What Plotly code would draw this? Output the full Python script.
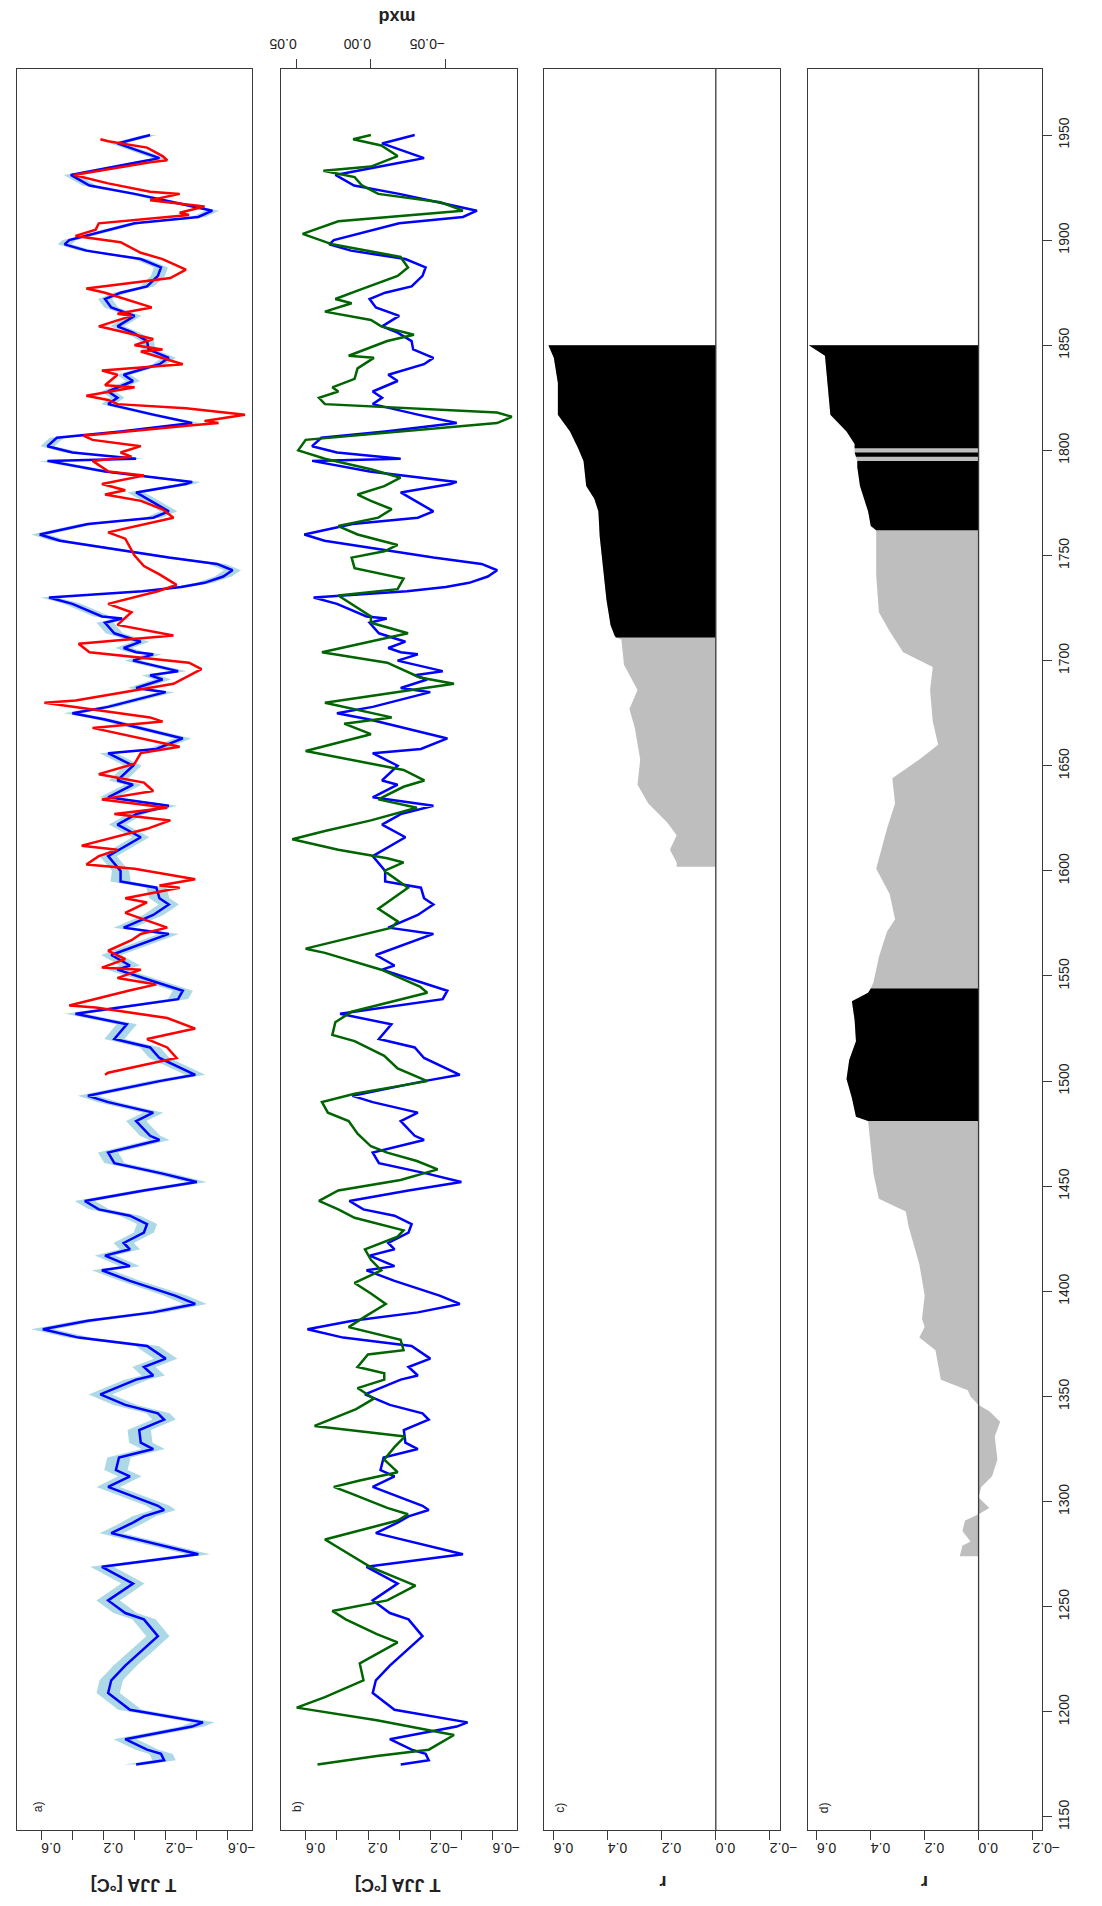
import plotly.graph_objects as go

# ---------------- data ----------------
years_recon = [1175, 1177, 1180, 1182, 1187, 1193, 1195, 1201, 1209, 1215, 1222, 1228, 1236, 1244, 1247,
               1253, 1261, 1269, 1275, 1285, 1290, 1293, 1296, 1298, 1307, 1312, 1315, 1321, 1325, 1328,
               1334, 1339, 1342, 1346, 1351, 1358,
               1360, 1364, 1368, 1374, 1378, 1382, 1386, 1390, 1394, 1398, 1405, 1410, 1412, 1417, 1420,
               1423, 1428, 1432, 1436, 1439, 1443, 1448, 1452, 1456, 1461, 1466, 1472, 1474, 1481,
               1485, 1490, 1493, 1500, 1503, 1511, 1516, 1520, 1527, 1532, 1539, 1543, 1547, 1553, 1555,
               1560, 1570, 1573, 1579, 1584, 1587, 1592, 1595, 1600, 1607,
               1612, 1616, 1622, 1627, 1631, 1635, 1641, 1643, 1650, 1656, 1658, 1663, 1672, 1675, 1678,
               1685, 1687, 1691, 1693, 1695, 1700, 1703, 1704, 1706, 1709, 1713, 1718, 1720, 1721, 1724,
               1727, 1730, 1733, 1735, 1737, 1740, 1743, 1746, 1749,
               1757, 1760, 1765, 1768, 1771, 1777, 1780, 1784, 1785, 1790, 1794, 1795, 1796, 1799, 1802,
               1806, 1809, 1813, 1817, 1822, 1825, 1828, 1833, 1836, 1841, 1844, 1848, 1852, 1856, 1859,
               1864, 1868, 1872, 1875, 1878, 1883, 1887, 1891, 1895, 1898, 1900, 1908, 1911, 1914, 1918,
               1922, 1926, 1931, 1937, 1939, 1946, 1950]
recon = [-0.01, -0.19, -0.17, -0.08, 0.06, -0.37, -0.44, 0.03, 0.17, 0.15, 0.06, -0.03, -0.15, -0.06, 0.06,
         0.17, 0.01, 0.21, -0.41, 0.15, 0.01, -0.06, -0.19, -0.15, 0.17, 0.03, 0.12, 0.10, -0.12, -0.04,
         -0.03, -0.19, -0.15, 0.06, 0.22, -0.01,
         -0.12, -0.06, -0.20, -0.08, 0.36, 0.59, 0.30, -0.12, -0.39, -0.26, 0.03, 0.21, 0.03, 0.19, 0.03,
         0.07, -0.06, -0.08, 0.03, 0.23, 0.32, -0.06, -0.40, -0.18, 0.13, 0.17, -0.16, -0.10, -0.01,
         -0.12, 0.17, 0.30, -0.16, -0.39, -0.16, -0.10, 0.13, 0.05, 0.38, -0.28, -0.31, -0.14, 0.11, 0.03,
         0.15, -0.22, 0.07, -0.12, -0.22, -0.16, -0.14, 0.09, 0.09, 0.17,
         0.05, -0.04, 0.11, -0.01, -0.22, 0.17, 0.01, 0.11, 0.01, 0.17, -0.14, -0.31, 0.19, 0.40, 0.17,
         -0.20, -0.01, -0.18, -0.10, -0.28, 0.01, -0.12, -0.01, 0.07, -0.04, 0.13, 0.19, 0.08, 0.21, 0.30,
         0.40, 0.55, -0.05, -0.30, -0.45, -0.57, -0.63, -0.53, -0.22,
         0.48, 0.61, 0.30, -0.12, -0.22, -0.08, -0.01, -0.33, -0.37, 0.19, 0.48, 0.56, -0.01, 0.40, 0.56,
         0.50, 0.09, -0.37, -0.12, 0.17, 0.11, 0.17, 0.01, 0.07, -0.16, -0.22, -0.09, -0.08, 0.01, 0.11,
         0.00, 0.15, 0.19, 0.09, -0.08, -0.15, -0.17, -0.04, 0.31, 0.45, 0.42, 0.00, -0.41, -0.50, -0.25,
         0.00, 0.29, 0.41, -0.02, -0.16, 0.11, -0.10]

years_instr = [1503, 1504, 1508, 1511, 1516, 1520, 1525, 1530, 1535, 1536, 1543, 1546, 1549, 1553, 1554,
               1558, 1562, 1567, 1570, 1573, 1580, 1585, 1587, 1592, 1593, 1596, 1601, 1603, 1607, 1610,
               1612, 1620, 1624, 1627, 1630, 1634, 1638, 1642, 1646, 1651, 1656, 1659, 1668, 1671, 1673,
               1680, 1681, 1689, 1696, 1699, 1704, 1708, 1712, 1717, 1723, 1727, 1733, 1736, 1741, 1745,
               1750, 1758, 1761, 1768, 1772, 1776, 1779, 1781, 1784, 1788, 1790, 1795, 1797, 1799, 1802,
               1805, 1807, 1809, 1812, 1813, 1814, 1817, 1820, 1822, 1824, 1826, 1830, 1831, 1836, 1838,
               1841, 1847, 1848, 1850, 1853, 1859, 1864, 1865, 1868, 1875, 1877, 1882, 1886, 1891, 1894,
               1899, 1902, 1905, 1908, 1912, 1913, 1916, 1919, 1922, 1923, 1927, 1931, 1937, 1938, 1940,
               1944, 1947, 1948]
instr = [0.19, 0.17, -0.08, -0.27, -0.21, -0.08, -0.39, -0.21, 0.25, 0.42, 0.04, -0.14, 0.11, -0.04, 0.21,
         0.06, 0.17, 0.02, -0.04, -0.21, 0.06, -0.08, 0.06, -0.29, -0.16, -0.39, 0.00, 0.31, 0.23, 0.11,
         0.34, -0.08, -0.23, 0.13, -0.21, 0.21, -0.12, -0.06, 0.23, 0.00, -0.04, -0.29, 0.27, -0.18, -0.10,
         0.58, 0.38, -0.25, -0.43, -0.35, 0.29, 0.36, -0.25, 0.11, 0.02, 0.17, -0.15, -0.27, -0.16, -0.06,
         0.00, 0.06, 0.17, -0.25, -0.18, -0.04, 0.19, 0.06, 0.21, -0.06, 0.17, 0.27, 0.02, 0.09, -0.04,
         0.27, 0.33, 0.06, -0.37, -0.54, -0.45, -0.71, -0.33, 0.11, 0.17, 0.31, 0.00, 0.19, 0.11, 0.21,
         -0.31, -0.04, -0.18, 0.00, -0.12, 0.23, 0.02, 0.11, -0.11, 0.19, 0.31, -0.23, -0.33, -0.18, -0.04,
         0.09, 0.38, 0.25, 0.23, -0.35, -0.29, -0.45, -0.10, -0.29, -0.10, 0.17, 0.39, -0.10, -0.21, -0.18,
         -0.08, 0.17, 0.22]

years_mxd = [1175, 1179, 1182, 1185, 1189, 1196, 1202, 1207, 1215, 1223, 1233, 1237, 1244, 1248, 1253,
             1260, 1269, 1279, 1282, 1288, 1291, 1294, 1297, 1304, 1307, 1310, 1314, 1320, 1326, 1331,
             1336, 1344, 1349, 1354, 1358,
             1361, 1364, 1370, 1372, 1377, 1383, 1388, 1394, 1399, 1404, 1410, 1415, 1420, 1426, 1429,
             1435, 1439, 1443, 1448, 1453, 1458, 1462, 1466, 1469, 1475, 1481,
             1485, 1490, 1494, 1500, 1506, 1512, 1519, 1522, 1528, 1533, 1542, 1545, 1553, 1561, 1563,
             1573, 1576, 1582, 1592, 1600, 1604,
             1606, 1610, 1615, 1619, 1624, 1630, 1634, 1640, 1643, 1648, 1654, 1657, 1665, 1670, 1673,
             1680, 1689, 1692, 1699, 1704, 1713, 1718, 1721, 1726, 1731,
             1734, 1739, 1744, 1749, 1752, 1755, 1760, 1764, 1768, 1772, 1776, 1779, 1783, 1787, 1791,
             1796, 1800, 1805, 1813, 1816, 1818, 1822, 1825, 1828, 1830, 1834, 1839, 1844, 1845, 1852,
             1855,
             1859, 1862, 1866, 1870, 1872, 1876, 1883, 1887, 1892, 1898, 1903, 1909, 1914, 1918, 1922,
             1926, 1930, 1933, 1935, 1940, 1945, 1948, 1950]
mxd = [0.036, -0.004, -0.039, -0.046, -0.056, -0.004, 0.050, 0.031, 0.005, 0.0075, -0.018, -0.004, 0.017,
       0.026, -0.011, -0.030, 0.0005, 0.024, 0.031, -0.002, -0.018, -0.025, -0.011, 0.014, 0.025, 0.0075,
       -0.018, -0.009, -0.016, -0.023, 0.038, 0.010, -0.002, 0.009, -0.009,
       -0.009, 0.009, 0.002, -0.022, -0.020, 0.015, 0.004, -0.010, 0.000, 0.011, -0.007, 0.000, 0.004,
       -0.018, -0.022, 0.011, 0.022, 0.035, 0.022, -0.020, -0.045, -0.031, -0.011, 0.000, 0.009, 0.015,
       0.029, 0.033, 0.011, -0.038, -0.018, -0.009, 0.011, 0.026, 0.024, 0.013, -0.038, -0.033, -0.007,
       0.031, 0.044, -0.014, -0.018, -0.005, -0.025, -0.009, -0.022,
       -0.011, 0.022, 0.053, 0.031, 0.000, -0.031, -0.005, -0.022, -0.036, -0.022, 0.022, 0.044, 0.000,
       0.018, -0.014, 0.031, -0.056, -0.033, -0.011, 0.033, -0.025, 0.000, 0.000, 0.011, 0.022,
       -0.018, -0.022, 0.011, 0.013, -0.009, -0.018, 0.009, 0.022, -0.005, -0.014, 0.000, 0.009, -0.009,
       -0.020, 0.000, 0.031, 0.049, 0.044, -0.085, -0.095, -0.085, 0.031, 0.035, 0.022, 0.026, 0.011,
       0.009, -0.002, 0.015, -0.011, -0.029,
       -0.007, 0.000, 0.031, 0.013, 0.024, 0.009, -0.018, -0.025, -0.020, 0.026, 0.046, 0.022, -0.062,
       -0.047, -0.005, 0.006, 0.011, 0.032, 0.000, -0.018, -0.007, 0.012, 0.000]

# half width of the light-blue uncertainty band, by period start year
uncert_start = [1175, 1400, 1600, 1800]
uncert_halfwidth = [0.075, 0.065, 0.055, 0.045]

years_c = [1602, 1604, 1610, 1617, 1623, 1632, 1641, 1653, 1668, 1677, 1686, 1698, 1710, 1711, 1712,
           1717, 1729, 1741, 1759, 1771, 1777, 1783, 1795, 1801, 1809, 1817, 1832, 1844, 1850]
r_c = [0.145, 0.145, 0.17, 0.145, 0.18, 0.25, 0.29, 0.28, 0.30, 0.32, 0.29, 0.34, 0.35, 0.37, 0.375,
       0.39, 0.405, 0.415, 0.43, 0.435, 0.45, 0.48, 0.49, 0.51, 0.54, 0.585, 0.585, 0.60, 0.62]
c_significant = [(1711, 1850)]

years_d = [1274, 1279, 1281, 1286, 1291, 1294, 1297, 1302, 1307, 1312, 1320, 1331, 1338, 1343, 1346,
           1350, 1353, 1358, 1365, 1372, 1378, 1383, 1387, 1398, 1413, 1422, 1431, 1438, 1444, 1456,
           1468, 1481, 1483, 1492, 1501, 1510, 1519, 1529, 1538, 1542, 1544, 1547, 1559, 1571, 1577,
           1589, 1601, 1620, 1632, 1644, 1653, 1660, 1671, 1686, 1697, 1704, 1714, 1723, 1741, 1762,
           1764, 1771, 1783, 1792, 1795, 1797, 1799, 1801, 1803, 1809, 1817, 1838, 1845, 1850]
r_d = [0.07, 0.06, 0.03, 0.06, 0.05, 0.0, -0.04, 0.0, -0.01, -0.05, -0.07, -0.06, -0.08, -0.04, 0.0,
       0.03, 0.04, 0.14, 0.15, 0.16, 0.22, 0.20, 0.21, 0.20, 0.22, 0.24, 0.26, 0.27, 0.37, 0.39,
       0.40, 0.41, 0.455, 0.47, 0.49, 0.48, 0.455, 0.46, 0.47, 0.41, 0.40, 0.39, 0.37, 0.34, 0.31,
       0.33, 0.38, 0.34, 0.31, 0.32, 0.22, 0.15, 0.17, 0.18, 0.17, 0.28, 0.33, 0.37, 0.38, 0.38,
       0.40, 0.41, 0.44, 0.45, 0.45, 0.455, 0.46, 0.46, 0.46, 0.49, 0.55, 0.565, 0.57, 0.63]
d_significant = [(1481, 1544), (1762, 1795), (1797, 1799), (1801, 1850)]

year_ticks = list(range(1150, 1951, 50))
temp_ticks = [0.6, 0.4, 0.2, 0.0, -0.2, -0.4, -0.6]
temp_ticktext = ["0.6", "", "0.2", "", "\u22120.2", "", "\u22120.6"]
mxd_ticks = [0.05, 0.0, -0.05]
mxd_ticktext = ["0.05", "0.00", "\u22120.05"]
r_ticks = [0.6, 0.4, 0.2, 0.0, -0.2]
r_ticktext = ["0.6", "0.4", "0.2", "0.0", "\u22120.2"]

# ---------------- geometry ----------------
W, H = 1102, 1906
def fx(px):
    return px / W
def fy(py):
    return 1 - py / H

dom_a = [fx(5), fx(247)]
dom_b = [fx(277), fx(519)]
dom_c = [fx(547), fx(789)]
dom_d = [fx(818), fx(1059)]
dom_y = [fy(1830), fy(69)]
year_range = [1143.8, 1981.4]

BLUE = "#0000FF"
RED = "#FF0000"
GREEN = "#006400"
BAND = "#ADD8E6"
GREY = "#BEBEBE"
AXC = "#3a3a3a"
FONT = "Liberation Sans, Arial, sans-serif"
LW = 2.5

fig = go.Figure()

def halfwidth(year):
    hw = uncert_halfwidth[0]
    for s, h in zip(uncert_start, uncert_halfwidth):
        if year >= s:
            hw = h
    return hw

# panel a
upper = [v + halfwidth(y) for y, v in zip(years_recon, recon)]
lower = [v - halfwidth(y) for y, v in zip(years_recon, recon)]
fig.add_trace(go.Scatter(x=upper + lower[::-1], y=years_recon + years_recon[::-1], fill="toself",
                         fillcolor=BAND, line=dict(width=0), mode="lines", xaxis="x", yaxis="y",
                         hoverinfo="skip"))
fig.add_trace(go.Scatter(x=recon, y=years_recon, mode="lines", line=dict(color=BLUE, width=LW),
                         xaxis="x", yaxis="y"))
fig.add_trace(go.Scatter(x=instr, y=years_instr, mode="lines", line=dict(color=RED, width=LW),
                         xaxis="x", yaxis="y"))

# panel b
fig.add_trace(go.Scatter(x=recon, y=years_recon, mode="lines", line=dict(color=BLUE, width=LW),
                         xaxis="x2", yaxis="y2"))
fig.add_trace(go.Scatter(x=mxd, y=years_mxd, mode="lines", line=dict(color=GREEN, width=LW),
                         xaxis="x5", yaxis="y2"))

# panels c and d: running correlations
def add_corr(years, r, sig, xa, ya):
    fig.add_trace(go.Scatter(x=[0] + r + [0], y=[years[0]] + years + [years[-1]], fill="toself",
                             fillcolor=GREY, line=dict(width=0), mode="lines", xaxis=xa, yaxis=ya,
                             hoverinfo="skip"))
    for s, e in sig:
        ys = [yy for yy in years if s <= yy <= e]
        rs = [rr for yy, rr in zip(years, r) if s <= yy <= e]
        fig.add_trace(go.Scatter(x=[0] + rs + [0], y=[s] + ys + [e], fill="toself",
                                 fillcolor="#000000", line=dict(width=0), mode="lines",
                                 xaxis=xa, yaxis=ya, hoverinfo="skip"))

add_corr(years_c, r_c, c_significant, "x3", "y3")
add_corr(years_d, r_d, d_significant, "x4", "y4")

tickfont = dict(family=FONT, size=14, color="#222")

def xax(domain, anchor, rng, tv, tt):
    return dict(domain=domain, anchor=anchor, range=rng, tickvals=tv, ticktext=tt, ticks="outside",
                ticklen=9, tickwidth=1.2, tickcolor=AXC, tickangle=180, tickfont=tickfont,
                showline=True, mirror=True, linecolor=AXC, linewidth=1.3, showgrid=False,
                zeroline=False)

def yax(anchor, show=False):
    d = dict(domain=dom_y, anchor=anchor, range=year_range, showline=True, mirror=True,
             linecolor=AXC, linewidth=1.3, showgrid=False, zeroline=False)
    if show:
        d.update(side="right", tickvals=year_ticks, ticks="outside", ticklen=9, tickwidth=1.2,
                 tickcolor=AXC, tickangle=-90, tickfont=tickfont)
    else:
        d.update(showticklabels=False, ticks="")
    return d

fig.update_layout(
    width=W, height=H, margin=dict(l=0, r=0, t=0, b=0),
    paper_bgcolor="white", plot_bgcolor="white", showlegend=False,
    font=dict(family=FONT, color="#222"),
    xaxis=xax(dom_a, "y", [0.757, -0.757], temp_ticks, temp_ticktext),
    xaxis2=xax(dom_b, "y2", [0.757, -0.757], temp_ticks, temp_ticktext),
    xaxis3=xax(dom_c, "y3", [0.636, -0.236], r_ticks, r_ticktext),
    xaxis4=xax(dom_d, "y4", [0.634, -0.236], r_ticks, r_ticktext),
    xaxis5=dict(overlaying="x2", anchor="y2", side="top", range=[0.0603, -0.0984], tickvals=mxd_ticks,
                ticktext=mxd_ticktext, ticks="outside", ticklen=9, tickwidth=1.2, tickcolor=AXC,
                tickangle=180, tickfont=tickfont, showline=False, showgrid=False, zeroline=False),
    yaxis=yax("x"), yaxis2=yax("x2"), yaxis3=yax("x3"), yaxis4=yax("x4", show=True),
)

for xr in ["x3", "x4"]:
    fig.add_shape(type="line", xref=xr, yref="paper", x0=0, x1=0, y0=dom_y[0], y1=dom_y[1],
                  line=dict(color=AXC, width=1.3), layer="above")

def label(text, px, py, angle, size, bold=False):
    fig.add_annotation(text=f"<b>{text}</b>" if bold else text, x=fx(px), y=fy(py), xref="paper",
                       yref="paper", showarrow=False, textangle=angle,
                       font=dict(family=FONT, size=size, color="#222"), xanchor="center",
                       yanchor="middle")

label("T JJA [°C]", 125, 1885, 180, 18, True)
label("T JJA [°C]", 396, 1885, 180, 18, True)
label("r", 669, 1882, 180, 18, True)
label("r", 938, 1882, 180, 18, True)
label("mxd", 396, 17, 180, 18, True)
label("a)", 27, 1807, -90, 12)
label("b)", 293, 1807, -90, 12)
label("c)", 563, 1808, -90, 12)
label("d)", 835, 1808, -90, 12)

fig.write_html("out.html")
